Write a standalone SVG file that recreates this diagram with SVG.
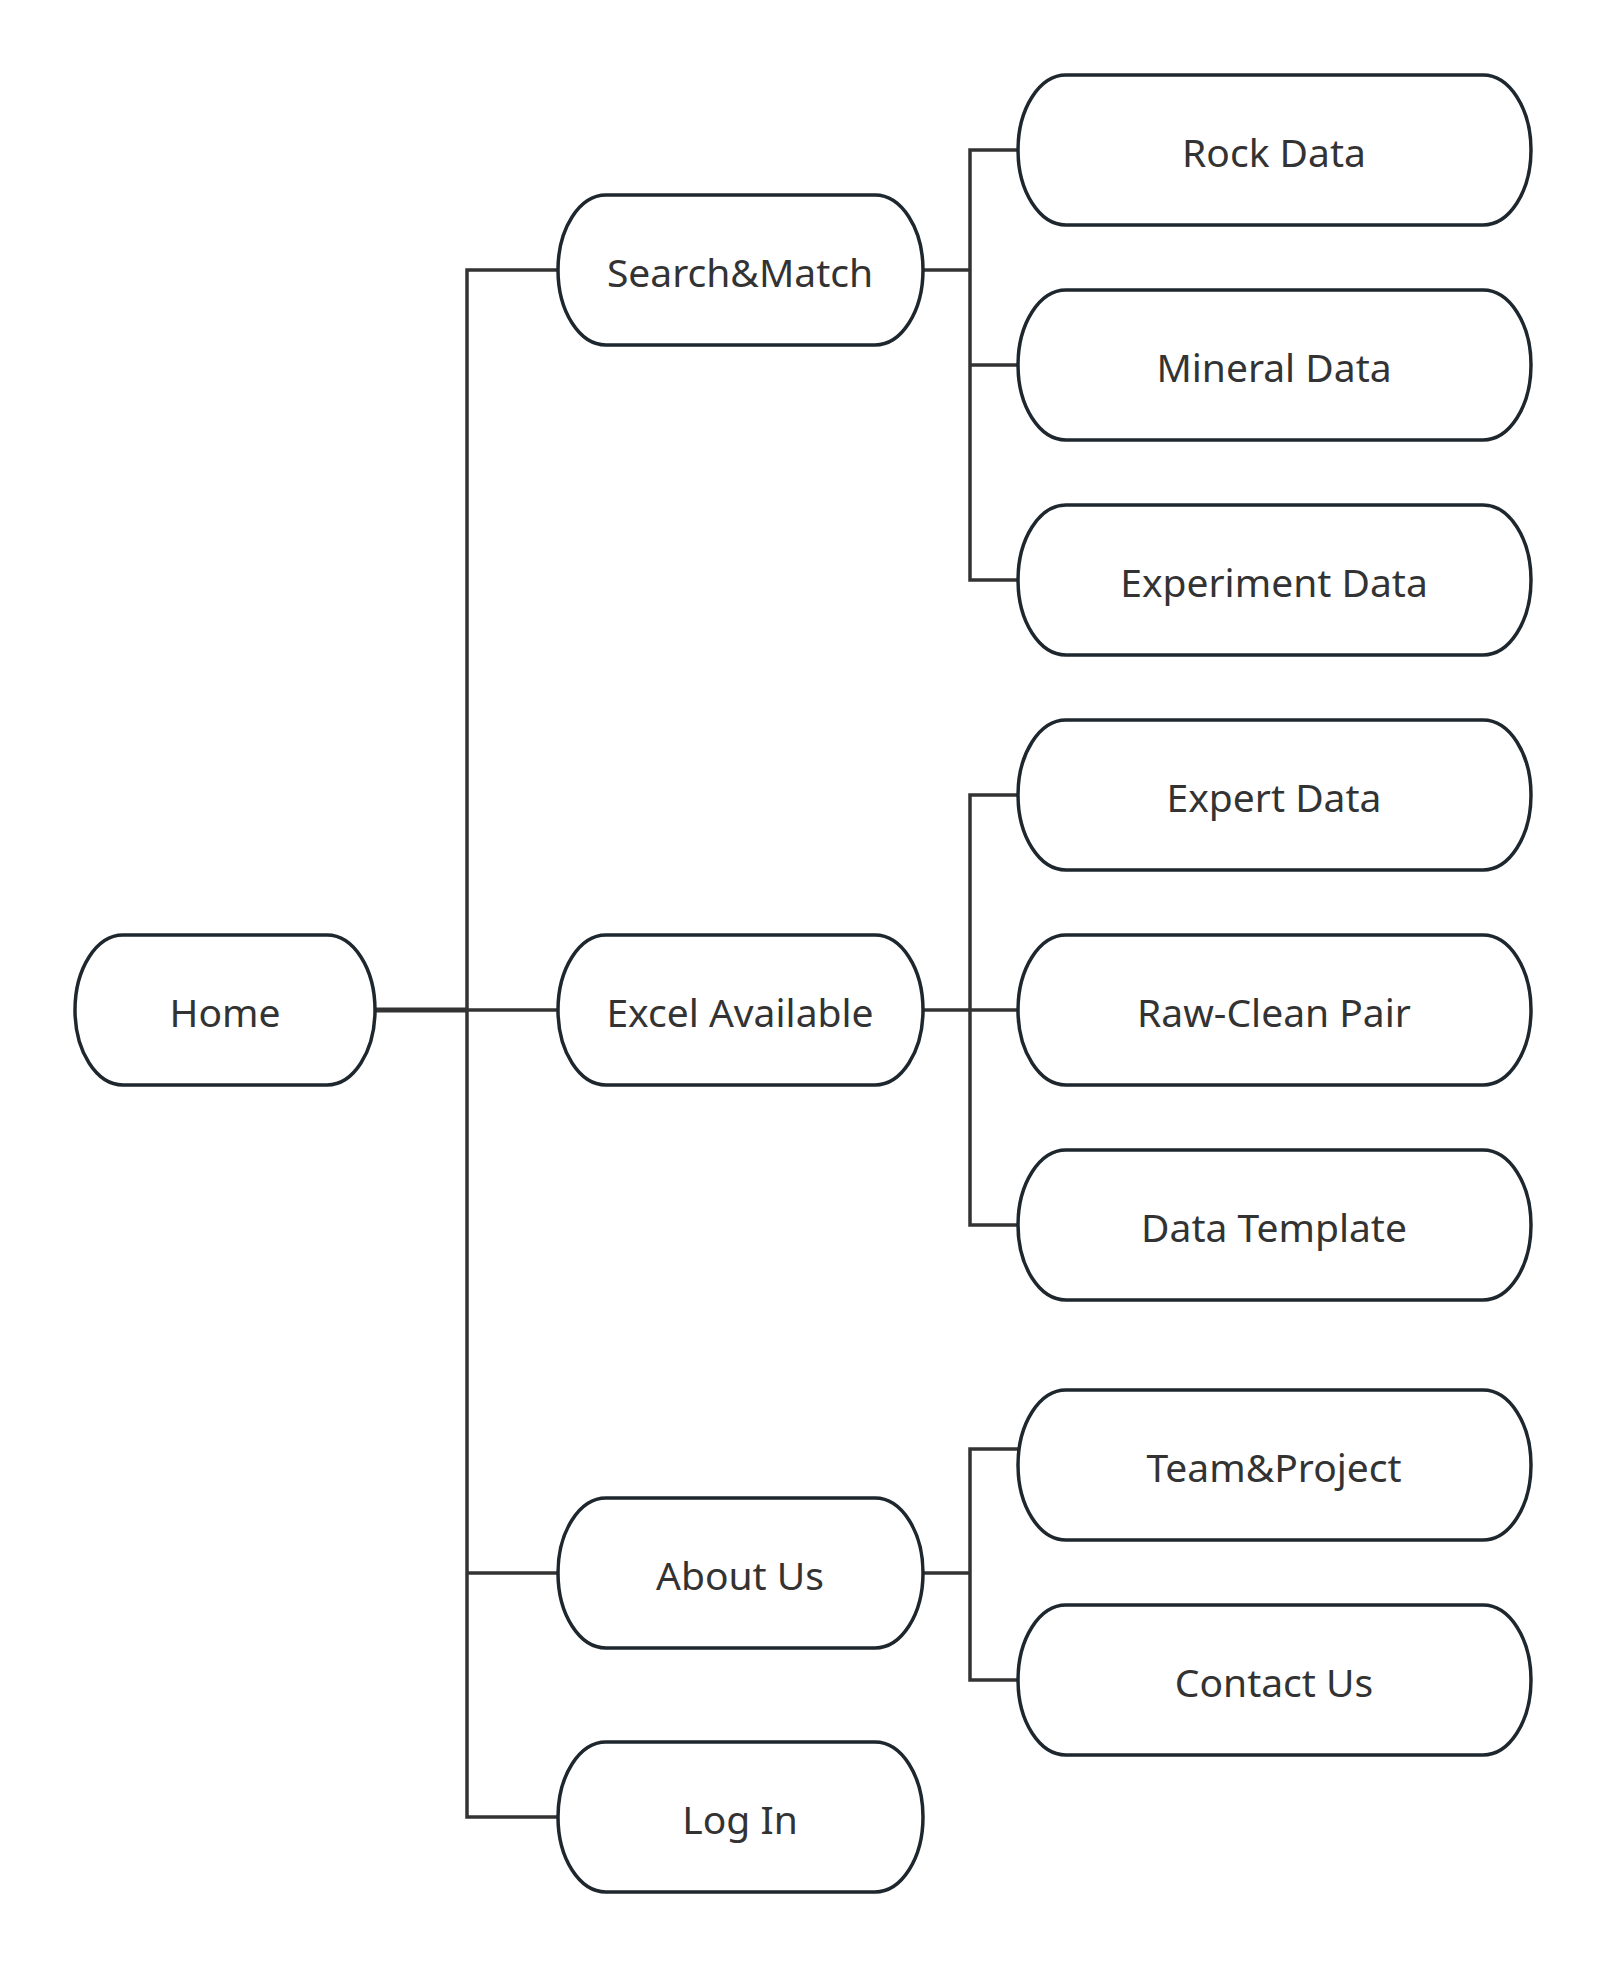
<svg xmlns="http://www.w3.org/2000/svg" width="1606" height="1968" viewBox="0 0 1606 1968">
<style>
.node rect{fill:#ffffff;stroke:#1e272e;stroke-width:3.5}
.node text{font-family:"Noto Sans","Open Sans","DejaVu Sans",sans-serif;font-size:39px;fill:#333333;text-anchor:middle}
.conn path{fill:none;stroke:#333333;stroke-width:3.5;stroke-linejoin:miter}
</style>
<rect width="1606" height="1968" fill="#ffffff"/>
<g id="connectors" class="conn">
<path d="M375 1010 H467" style="stroke-width:5"/>
<path d="M558 270 H467 V1817 H558"/>
<path d="M467 1010 H558"/>
<path d="M467 1573 H558"/>
<path d="M923 270 H970"/>
<path d="M1018 150 H970 V580 H1018"/>
<path d="M970 365 H1018"/>
<path d="M923 1010 H1018"/>
<path d="M1018 795 H970 V1225 H1018"/>
<path d="M923 1573 H970"/>
<path d="M1018 1449 H970 V1680 H1018"/>
</g>
<g id="home" class="node"><rect x="75" y="935" width="300" height="150" rx="48" ry="75"/><text x="225" y="1027">Home</text></g>
<g id="search-match" class="node"><rect x="558" y="195" width="365" height="150" rx="48" ry="75"/><text x="740" y="287">Search&amp;Match</text></g>
<g id="excel-available" class="node"><rect x="558" y="935" width="365" height="150" rx="48" ry="75"/><text x="740" y="1027">Excel Available</text></g>
<g id="about-us" class="node"><rect x="558" y="1498" width="365" height="150" rx="48" ry="75"/><text x="740" y="1590">About Us</text></g>
<g id="log-in" class="node"><rect x="558" y="1742" width="365" height="150" rx="48" ry="75"/><text x="740" y="1834">Log In</text></g>
<g id="rock-data" class="node"><rect x="1018" y="75" width="513" height="150" rx="48" ry="75"/><text x="1274" y="167">Rock Data</text></g>
<g id="mineral-data" class="node"><rect x="1018" y="290" width="513" height="150" rx="48" ry="75"/><text x="1274" y="382">Mineral Data</text></g>
<g id="experiment-data" class="node"><rect x="1018" y="505" width="513" height="150" rx="48" ry="75"/><text x="1274" y="597">Experiment Data</text></g>
<g id="expert-data" class="node"><rect x="1018" y="720" width="513" height="150" rx="48" ry="75"/><text x="1274" y="812">Expert Data</text></g>
<g id="raw-clean-pair" class="node"><rect x="1018" y="935" width="513" height="150" rx="48" ry="75"/><text x="1274" y="1027">Raw-Clean Pair</text></g>
<g id="data-template" class="node"><rect x="1018" y="1150" width="513" height="150" rx="48" ry="75"/><text x="1274" y="1242">Data Template</text></g>
<g id="team-project" class="node"><rect x="1018" y="1390" width="513" height="150" rx="48" ry="75"/><text x="1274" y="1482">Team&amp;Project</text></g>
<g id="contact-us" class="node"><rect x="1018" y="1605" width="513" height="150" rx="48" ry="75"/><text x="1274" y="1697">Contact Us</text></g>
</svg>
